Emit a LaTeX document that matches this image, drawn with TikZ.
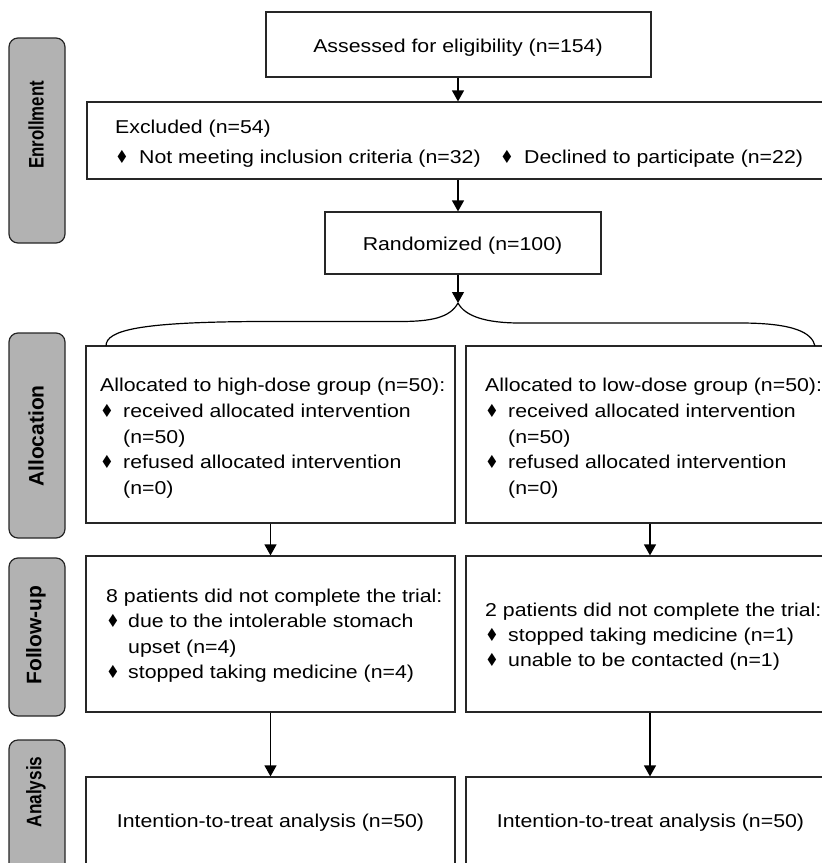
\documentclass[tikz,border=0pt]{standalone}
\usepackage{fontspec}
\setmainfont{Liberation Sans}
\newfontfamily\dejavu{DejaVu Sans}
\usepackage{graphicx}
\usetikzlibrary{arrows.meta}
\newcommand{\wx}[1]{\scalebox{1.145}[1]{#1}}
\newcommand{\bt}{\scalebox{0.85}[1]{♦}}
\tikzset{
  box/.style={draw=black!85, line width=1.2pt, rectangle, inner sep=0pt, fill=white},
  lab/.style={draw=black!85, line width=1.2pt, rounded corners=9pt, fill=black!30, inner sep=0pt, minimum width=56pt},
  txt/.style={inner sep=0pt, anchor=base west, font=\fontsize{18.6}{22}\selectfont},
  ctxt/.style={inner sep=0pt, anchor=base, font=\fontsize{18.6}{22}\selectfont},
  bul/.style={inner sep=0pt, anchor=base west, font=\dejavu\fontsize{18}{18}\selectfont},
  ltxt/.style={inner sep=0pt, rotate=90, font=\bfseries\fontsize{21}{21}\selectfont},
  arr/.style={-{Triangle[length=11pt,width=12pt]}, line width=1.2pt},
  con/.style={line width=1.2pt},
}
\begin{document}
\begin{tikzpicture}[x=1pt,y=-1pt]
\useasboundingbox (0,0) rectangle (822,863);
\clip (0,0) rectangle (822,863);
% side labels
\node[lab, minimum height=205pt] (lEnr) at (37,140.5) {};
\node[lab, minimum height=205pt] (lAll) at (37,435.5) {};
\node[lab, minimum height=158pt] (lFol) at (37,637) {};
\node[lab, minimum height=160pt] (lAna) at (37,820) {};
\node[ltxt] (tEnr) at (36,125) {\scalebox{0.8}[1]{Enrollment}};
\node[ltxt] (tAll) at (36,436) {Allocation};
\node[ltxt] (tFol) at (36,635) {Follow-up};
\node[ltxt] (tAna) at (36,792) {\scalebox{0.82}[1]{Analysis}};
% boxes
\node[box, minimum width=385pt, minimum height=65pt] (assess) at (458.5,44.5) {};
\node[box, minimum width=753pt, minimum height=77pt] (excl) at (463.5,140.5) {};
\node[box, minimum width=276pt, minimum height=62pt] (rand) at (463,243) {};
\node[box, minimum width=369pt, minimum height=177pt] (allocL) at (270.5,434.5) {};
\node[box, minimum width=374pt, minimum height=177pt] (allocR) at (653,434.5) {};
\node[box, minimum width=369pt, minimum height=156pt] (fuL) at (270.5,634) {};
\node[box, minimum width=374pt, minimum height=156pt] (fuR) at (653,634) {};
\node[box, minimum width=369pt, minimum height=123pt] (anaL) at (270.5,838.5) {};
\node[box, minimum width=374pt, minimum height=123pt] (anaR) at (653,838.5) {};
% helper coordinates
\coordinate (sp) at (458,0);
\coordinate (xr) at (650,0);
\coordinate (split) at (458,303);
\coordinate (bl) at (106,346);
\coordinate (br) at (815,346);
% connectors
\draw[arr] (sp |- assess.south) -- (sp |- excl.north);
\draw[arr] (sp |- excl.south) -- (sp |- rand.north);
\draw[arr] (sp |- rand.south) -- (split);
\draw[con] (split) .. controls (450,318) and (430,321.5) .. (400,321.5) -- (260,321.5) .. controls (140,322) and (106,330) .. (bl);
\draw[con] (split) .. controls (465,316) and (485,323) .. (520,323) -- (740,323) .. controls (795,323) and (812,333) .. (br);
\draw[arr] (allocL.south) -- (fuL.north);
\draw[arr] (xr |- allocR.south) -- (xr |- fuR.north);
\draw[arr] (fuL.south) -- (anaL.north);
\draw[arr] (xr |- fuR.south) -- (xr |- anaR.north);
% texts
\node[ctxt] (tA) at (458,52) {\wx{Assessed for eligibility (n=154)}};
\node[txt] (tE1) at (115,133) {\wx{Excluded (n=54)}};
\node[bul] (bE1) at (115,163) {\bt};
\node[txt] (tE2) at (139,163) {\wx{Not meeting inclusion criteria (n=32)}};
\node[bul] (bE2) at (500,163) {\bt};
\node[txt] (tE3) at (524,163) {\wx{Declined to participate (n=22)}};
\node[ctxt] (tR) at (462.5,250.5) {\wx{Randomized (n=100)}};
% allocation left
\node[txt] (tAL1) at (100,391) {\wx{Allocated to high-dose group (n=50):}};
\node[bul] (bAL1) at (100,417) {\bt};
\node[txt] (tAL2) at (123,417) {\wx{received allocated intervention}};
\node[txt] (tAL3) at (123,443) {\wx{(n=50)}};
\node[bul] (bAL2) at (100,468) {\bt};
\node[txt] (tAL4) at (123,468) {\wx{refused allocated intervention}};
\node[txt] (tAL5) at (123,494) {\wx{(n=0)}};
% allocation right
\node[txt] (tAR1) at (485,391) {\wx{Allocated to low-dose group (n=50):}};
\node[bul] (bAR1) at (485,417) {\bt};
\node[txt] (tAR2) at (508,417) {\wx{received allocated intervention}};
\node[txt] (tAR3) at (508,443) {\wx{(n=50)}};
\node[bul] (bAR2) at (485,468) {\bt};
\node[txt] (tAR4) at (508,468) {\wx{refused allocated intervention}};
\node[txt] (tAR5) at (508,494) {\wx{(n=0)}};
% follow-up left
\node[txt] (tFL1) at (106,602) {\wx{8 patients did not complete the trial:}};
\node[bul] (bFL1) at (106,627.5) {\bt};
\node[txt] (tFL2) at (128,627.5) {\wx{due to the intolerable stomach}};
\node[txt] (tFL3) at (128,653) {\wx{upset (n=4)}};
\node[bul] (bFL2) at (106,678.5) {\bt};
\node[txt] (tFL4) at (128,678.5) {\wx{stopped taking medicine (n=4)}};
% follow-up right
\node[txt] (tFR1) at (485,616) {\wx{2 patients did not complete the trial:}};
\node[bul] (bFR1) at (485,641.5) {\bt};
\node[txt] (tFR2) at (508,641.5) {\wx{stopped taking medicine (n=1)}};
\node[bul] (bFR2) at (485,666.5) {\bt};
\node[txt] (tFR3) at (508,666.5) {\wx{unable to be contacted (n=1)}};
% analysis
\node[ctxt] (tNL) at (270.5,827) {\wx{Intention-to-treat analysis (n=50)}};
\node[ctxt] (tNR) at (650.5,827) {\wx{Intention-to-treat analysis (n=50)}};
\end{tikzpicture}
\end{document}
